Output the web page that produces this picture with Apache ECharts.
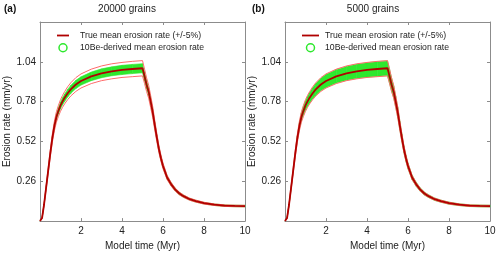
<!DOCTYPE html>
<html><head><meta charset="utf-8">
<script src="https://cdn.jsdelivr.net/npm/echarts@6/dist/echarts.min.js"></script>
<style>html,body{margin:0;padding:0;background:#fff}#c{width:500px;height:256px}</style>
</head><body><div id="c"></div>
<script>
// ---- data ----
const time = [0,0.1,0.2,0.3,0.4,0.5,0.6,0.7,0.8,0.9,1.0,1.1,1.2,1.35,1.5,1.75,2.0,2.5,3.0,3.5,4.0,4.5,5.0,5.1,5.2,5.3,5.4,5.5,5.6,5.7,5.8,5.9,6.0,6.2,6.4,6.6,6.8,7.0,7.3,7.6,8.0,8.5,9.0,9.5,10];
const trueRate = [0,0.02,0.11,0.22,0.33,0.44,0.54,0.62,0.68,0.72,0.755,0.782,0.805,0.835,0.86,0.892,0.915,0.945,0.965,0.978,0.987,0.993,0.998,0.945,0.89,0.845,0.78,0.71,0.625,0.545,0.47,0.41,0.36,0.285,0.24,0.205,0.18,0.163,0.143,0.13,0.117,0.107,0.101,0.099,0.098];
const upperRate = [0,0.021,0.116,0.231,0.347,0.462,0.567,0.651,0.714,0.756,0.793,0.821,0.845,0.877,0.903,0.937,0.961,0.992,1.013,1.027,1.036,1.043,1.048,0.992,0.935,0.887,0.819,0.746,0.656,0.572,0.494,0.431,0.378,0.299,0.252,0.215,0.189,0.171,0.150,0.137,0.123,0.112,0.106,0.104,0.103];
const lowerRate = [0,0.019,0.105,0.209,0.314,0.418,0.513,0.589,0.646,0.684,0.717,0.743,0.765,0.793,0.817,0.847,0.869,0.898,0.917,0.929,0.938,0.943,0.948,0.898,0.846,0.803,0.741,0.675,0.594,0.518,0.447,0.390,0.342,0.271,0.228,0.195,0.171,0.155,0.136,0.124,0.111,0.102,0.096,0.094,0.093];
// half-width of the green 10Be-derived cloud around the true curve
const spread20000 = [0,0,0,0,0,0,0.010,0.015,0.018,0.020,0.022,0.023,0.024,0.025,0.026,0.027,0.027,0.028,0.029,0.029,0.030,0.030,0.030,0.028,0.026,0.024,0.022,0.020,0.018,0.016,0.015,0.014,0.013,0.011,0.010,0.009,0.008,0.007,0.006,0.006,0.005,0.005,0.005,0.005,0.005];
const spread5000 = [0,0,0,0,0,0,0.015,0.020,0.025,0.028,0.030,0.032,0.034,0.036,0.038,0.040,0.042,0.044,0.045,0.046,0.047,0.048,0.048,0.045,0.042,0.038,0.035,0.032,0.028,0.025,0.022,0.020,0.018,0.015,0.013,0.011,0.010,0.009,0.008,0.007,0.007,0.006,0.006,0.006,0.006];
const panelTitles = ['20000 grains','5000 grains'];
const panelLetters = ['(a)','(b)'];
const legendNames = ['True mean erosion rate (+/-5%)','10Be-derived mean erosion rate'];
const yTicks = [0.26,0.52,0.78,1.04];
const xTicks = [2,4,6,8,10];

const pair = arr => time.map((t,i)=>[t,arr[i]]);
const FONT = 'Liberation Sans, Arial, Helvetica, sans-serif';
const AX = '#8c8c8c';
const GREEN = '#2ee82e';
const grids = [
  {left:40, right:255, top:22, bottom:30},
  {left:285, right:10, top:22, bottom:30}
];
const xAxis = [], yAxis = [], series = [], legend = [], title = [];
const spreads = [spread20000, spread5000];
const legendPos = [{left:57, w:12, pad:6},{left:302, w:17, pad:1}];
grids.forEach((g,gi)=>{
  const xb = {gridIndex:gi, type:'value', min:0, max:10, interval:2,
    axisLine:{show:true,onZero:false,lineStyle:{color:AX,width:1}},
    axisTick:{show:true,inside:true,length:3,lineStyle:{color:AX}},
    splitLine:{show:false}};
  xAxis.push(Object.assign({}, xb, {position:'bottom',
    axisLabel:{show:true,color:'#222',fontSize:10,fontFamily:FONT,margin:5,
      formatter:v=> xTicks.includes(Math.round(v*100)/100)? String(v):''},
    name:'Model time (Myr)', nameLocation:'middle', nameGap:15,
    nameTextStyle:{color:'#222',fontSize:10,fontFamily:FONT}}));
  xAxis.push(Object.assign({}, xb, {position:'top', axisLabel:{show:false}}));
  const yb = {gridIndex:gi, type:'value', min:0, max:1.3, interval:0.26,
    axisLine:{show:true,onZero:false,lineStyle:{color:AX,width:1}},
    axisTick:{show:true,inside:true,length:3,lineStyle:{color:AX}},
    splitLine:{show:false}};
  yAxis.push(Object.assign({}, yb, {position:'left',
    axisLabel:{show:true,color:'#222',fontSize:10,fontFamily:FONT,margin:4,
      formatter:v=>{const r=Math.round(v*100)/100; return yTicks.includes(r)? r.toFixed(2):'';}},
    name:'Erosion rate (mm/yr)', nameLocation:'middle', nameGap:21,
    nameTextStyle:{color:'#222',fontSize:10,fontFamily:FONT}}));
  yAxis.push(Object.assign({}, yb, {position:'right', axisLabel:{show:false}}));
  const xi = gi*2, yi = gi*2;
  const sp = spreads[gi];
  const segs = time.slice(0,-1).map((t,i)=>[t, trueRate[i]-sp[i], trueRate[i]+sp[i], time[i+1], trueRate[i+1]-sp[i+1], trueRate[i+1]+sp[i+1]]);
  series.push({type:'custom', name:legendNames[1], xAxisIndex:xi, yAxisIndex:yi, data:segs,
    encode:{x:[0,3], y:[1,2,4,5]}, itemStyle:{color:GREEN}, z:1, silent:true,
    renderItem:(params, api)=>{
      const p1 = api.coord([api.value(0), api.value(1)]);
      const p2 = api.coord([api.value(3), api.value(4)]);
      const p3 = api.coord([api.value(3), api.value(5)]);
      const p4 = api.coord([api.value(0), api.value(2)]);
      return {type:'polygon', shape:{points:[p1,p2,p3,p4]},
        style:{fill:GREEN, stroke:GREEN, lineWidth:0.6}};
    }});
  series.push({type:'line', xAxisIndex:xi, yAxisIndex:yi, data:pair(upperRate),
    symbol:'none', lineStyle:{color:'#ff6a6a',width:1}, z:3});
  series.push({type:'line', xAxisIndex:xi, yAxisIndex:yi, data:pair(lowerRate),
    symbol:'none', lineStyle:{color:'#ff6a6a',width:1}, z:3});
  series.push({type:'line', name:legendNames[0], xAxisIndex:xi, yAxisIndex:yi, data:pair(trueRate),
    symbol:'none', lineStyle:{color:'#b00000',width:1.8}, itemStyle:{color:'#b00000'}, z:4});
  const lp = legendPos[gi];
  legend.push({orient:'vertical', left:lp.left, top:31, padding:0, itemGap:3,
    itemWidth:lp.w, itemHeight:8, selectedMode:false,
    textStyle:{fontSize:8.7, color:'#222', fontFamily:FONT, padding:[0,0,0,lp.pad]},
    data:[{name:legendNames[0], icon:'path://M0,0h'+(lp.w*10)+'v18h-'+(lp.w*10)+'z', itemStyle:{color:'#b00000'}},
          {name:legendNames[1], icon:'circle', itemStyle:{color:'rgba(0,0,0,0)',borderColor:GREEN,borderWidth:1.5}}]});
});
title.push({text:panelLetters[0], left:4, top:4, padding:0, textStyle:{fontSize:10,fontWeight:'bold',color:'#111',fontFamily:FONT}});
title.push({text:panelTitles[0], left:127, top:4, padding:0, textAlign:'center', textStyle:{fontSize:10,fontWeight:'normal',color:'#222',fontFamily:FONT}});
title.push({text:panelLetters[1], left:252, top:4, padding:0, textStyle:{fontSize:10,fontWeight:'bold',color:'#111',fontFamily:FONT}});
title.push({text:panelTitles[1], left:373, top:4, padding:0, textAlign:'center', textStyle:{fontSize:10,fontWeight:'normal',color:'#222',fontFamily:FONT}});

const chart = echarts.init(document.getElementById('c'), null, {renderer:'canvas'});
chart.setOption({animation:false, backgroundColor:'#fff', grid:grids, xAxis, yAxis, series, legend, title});
</script></body></html>
